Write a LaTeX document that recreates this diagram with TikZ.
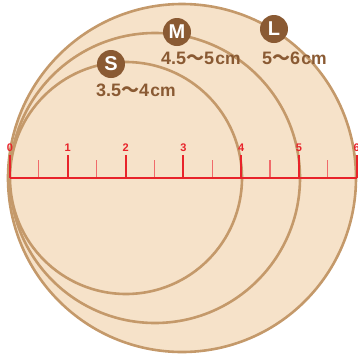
\documentclass[tikz,border=0pt]{standalone}
\usepackage{fontspec}
\setmainfont{Liberation Sans}
\newfontfamily\cjk{Noto Sans CJK JP}
\definecolor{peach}{HTML}{F6E2C9}
\definecolor{tan}{HTML}{C4996A}
\definecolor{brownbadge}{HTML}{8A5A33}
\definecolor{rulered}{HTML}{E8232A}
\definecolor{minorred}{HTML}{F06A6A}
\tikzset{
  sizecircle/.style={draw=tan, fill=peach, line width=2.6pt},
  badge/.style={circle, fill=brownbadge, minimum size=28pt, inner sep=0pt, text=white, font=\fontsize{20}{20}\selectfont\bfseries},
  sizetext/.style={anchor=base west, inner sep=0pt, text=brownbadge, font=\fontsize{18}{18}\selectfont\bfseries},
  majortick/.style={draw=rulered, line width=2pt},
  minortick/.style={draw=minorred, line width=1.2pt},
  ticklabel/.style={text=rulered, font=\fontsize{11}{11}\selectfont\bfseries, inner sep=0pt}
}
\newcommand{\cmu}{\kern1.2pt{\fontsize{17.5}{17.5}\selectfont cm}}
\newcommand{\wave}{{\cjk ～}}
\begin{document}
\begin{tikzpicture}[x=1pt,y=-1pt]
\useasboundingbox (0,0) rectangle (358,360);
% circles
\draw[sizecircle] (182,178) circle (174);
\draw[sizecircle] (155,178) circle (145);
\draw[sizecircle] (126,178) circle (116);
% ruler
\coordinate (r0) at (10,178);
\coordinate (r6) at (357,178);
\foreach \i in {0,...,5} {
  \draw[minortick] ({10+57.8*\i+28.9},178) -- ({10+57.8*\i+28.9},160);
}
\foreach \i in {0,...,6} {
  \draw[majortick] ({10+57.8*\i},178) -- ({10+57.8*\i},155);
  \node[ticklabel] (t\i) at ({10+57.8*\i},148) {\i};
}
\draw[rulered, line width=2.5pt] (r0) -- (r6);
% badges
\node[badge] (S) at (111,64) {S};
\node[badge] (M) at (177,32) {M};
\node[badge] (L) at (274,29) {L};
\node[sizetext] (St) at (96,96.5) {3.5\wave4\cmu};
\node[sizetext] (Mt) at (161,64.5) {4.5\wave5\cmu};
\node[sizetext] (Lt) at (262,64.5) {5\wave6\cmu};
\end{tikzpicture}
\end{document}
